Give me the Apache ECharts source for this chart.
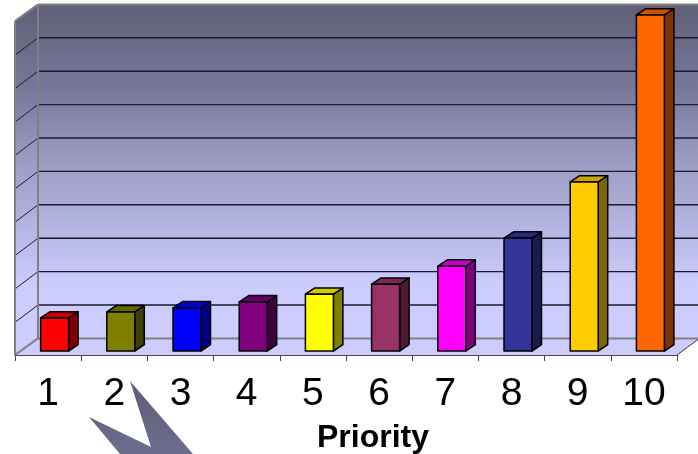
<!DOCTYPE html>
<html>
<head>
<meta charset="utf-8">
<style>html,body{margin:0;padding:0;background:#fff}#chart{width:698px;height:454px}</style>
<script src="https://cdn.jsdelivr.net/npm/echarts@6/dist/echarts.min.js"></script>
</head>
<body>
<div id="chart"></div>
<script>
// Priority counts, drawn as pseudo-3D columns
const categories = ['1', '2', '3', '4', '5', '6', '7', '8', '9', '10'];
const values = [9.9, 11.7, 12.9, 14.7, 17, 20, 25.4, 33.8, 50.6, 100.6];
const barColors = ['#ff0000', '#808000', '#0000ff', '#800080', '#ffff00',
  '#993366', '#ff00ff', '#333399', '#ffcc00', '#ff6600'];
const gridTicks = [10, 20, 30, 40, 50, 60, 70, 80, 90];

// Projection of the chart box: how far the back plane sits from the front plane
const DEPTH_X = 23, DEPTH_Y = 16.6;
const BAR_WIDTH = 28, BAR_DX = 6.5, BAR_DY = 4, BAR_DEPTH_X = 9.5, BAR_DEPTH_Y = 6.3;

const wallGradient = new echarts.graphic.LinearGradient(0, 4, 0, 286, [
  { offset: 0, color: '#5f5f78' },
  { offset: 0.3, color: '#77779a' },
  { offset: 0.5, color: '#9595bb' },
  { offset: 1, color: '#ccccff' }
], true);
wallGradient.global = true;

function shade(hex, f) {
  const n = parseInt(hex.slice(1), 16);
  const c = [n >> 16, (n >> 8) & 255, n & 255].map(v => Math.round(v * f));
  return 'rgb(' + c.join(',') + ')';
}

function renderBox(params, api) {
  const o = api.coord([0, 0]);
  const top = api.coord([0, 100]);
  const right = api.coord([categories.length - 1, 0])[0] + api.size([1, 0])[0] / 2;
  const left = o[0] - api.size([1, 0])[0] / 2;
  const bx = left + DEPTH_X, by = o[1] - DEPTH_Y, ty = top[1] - DEPTH_Y;
  const wallEdge = { stroke: '#808080', lineWidth: 2 };
  const children = [
    { type: 'polygon', shape: { points: [[bx, ty], [698, ty], [698, by], [bx, by]] },
      style: { fill: wallGradient } },
    { type: 'polygon', shape: { points: [[left, top[1]], [bx, ty], [bx, by], [left, o[1]]] },
      style: { fill: wallGradient } },
    { type: 'polygon', shape: { points: [[left, o[1]], [bx, by], [698, by], [698, by + 1], [right, o[1]]] },
      style: { fill: '#ccccff' } },
    { type: 'line', shape: { x1: right, y1: o[1], x2: 698, y2: by + 1 },
      style: { stroke: '#333333', lineWidth: 1 } }
  ];
  gridTicks.forEach(v => {
    const y = api.coord([0, v])[1];
    children.push(
      { type: 'line', shape: { x1: left + 1, y1: y, x2: bx, y2: y - DEPTH_Y },
        style: { stroke: '#1a1a2a', lineWidth: 1 } },
      { type: 'line', shape: { x1: bx, y1: y - DEPTH_Y, x2: 698, y2: y - DEPTH_Y },
        style: { stroke: '#1a1a2a', lineWidth: 1.4 } }
    );
  });
  children.push(
    { type: 'line', shape: { x1: bx, y1: ty, x2: 698, y2: ty }, style: wallEdge },
    { type: 'line', shape: { x1: bx, y1: ty, x2: bx, y2: by }, style: wallEdge },
    { type: 'line', shape: { x1: left, y1: top[1], x2: bx, y2: ty }, style: wallEdge },
    { type: 'line', shape: { x1: left, y1: top[1], x2: left, y2: o[1] }, style: wallEdge },
    { type: 'line', shape: { x1: bx, y1: by, x2: 698, y2: by }, style: wallEdge },
    { type: 'line', shape: { x1: left, y1: o[1], x2: bx, y2: by }, style: wallEdge }
  );
  return { type: 'group', children };
}

function renderBar(params, api) {
  const i = api.value(0);
  const base = api.coord([i, 0]);
  const head = api.coord([i, api.value(1)]);
  const x0 = base[0] + BAR_DX - BAR_WIDTH / 2, x1 = x0 + BAR_WIDTH;
  const y0 = base[1] - BAR_DY, y1 = head[1] - BAR_DY;
  const dx = BAR_DEPTH_X, dy = BAR_DEPTH_Y;
  const color = barColors[params.dataIndex];
  const edge = { stroke: '#000000', lineWidth: 1.5, lineJoin: 'round' };
  return {
    type: 'group',
    children: [
      { type: 'polygon', shape: { points: [[x1, y1], [x1 + dx, y1 - dy], [x1 + dx, y0 - dy], [x1, y0]] },
        style: { fill: shade(color, 0.5), ...edge } },
      { type: 'polygon', shape: { points: [[x0, y1], [x0 + dx, y1 - dy], [x1 + dx, y1 - dy], [x1, y1]] },
        style: { fill: shade(color, 0.8), ...edge } },
      { type: 'polygon', shape: { points: [[x0, y0], [x0, y1], [x1, y1], [x1, y0]] },
        style: { fill: color, ...edge } }
    ]
  };
}

const chart = echarts.init(document.getElementById('chart'), null, { renderer: 'canvas' });
chart.setOption({
  animation: false,
  backgroundColor: '#ffffff',
  grid: { left: 15, right: 21, top: 21, bottom: 99, containLabel: false, outerBoundsMode: 'none' },
  xAxis: {
    type: 'category',
    data: categories,
    axisLine: { show: true, onZero: false, lineStyle: { color: '#111111', width: 1.5 } },
    axisTick: { show: true, length: 6, lineStyle: { color: '#444444', width: 1 } },
    axisLabel: { color: '#000000', fontFamily: 'Liberation Sans', fontSize: 39, margin: 20 },
    name: 'Priority',
    nameLocation: 'middle',
    nameGap: 67,
    nameTextStyle: { color: '#000000', fontFamily: 'Liberation Sans', fontWeight: 'bold', fontSize: 32, padding: [0, 0, 0, 54] }
  },
  yAxis: {
    type: 'value', min: 0, max: 100, interval: 10,
    axisLine: { show: false }, axisTick: { show: false }, axisLabel: { show: false }, splitLine: { show: false }
  },
  series: [
    { type: 'custom', z: 1, silent: true, clip: false, renderItem: renderBox, data: [[0, 0]], encode: { x: 0, y: 1 } },
    { type: 'custom', z: 2, silent: true, clip: false, renderItem: renderBar,
      data: values.map((v, i) => [i, v]), encode: { x: 0, y: 1 } }
  ],
  // Decorative pointed shape under the axis, running off the bottom edge
  graphic: [{
    type: 'polygon', z: 5, silent: true,
    shape: { points: [[89, 417], [151, 447], [130, 381], [193, 454], [120, 454]] },
    style: { fill: new echarts.graphic.LinearGradient(0, 0, 0, 1, [
      { offset: 0, color: '#5f5f78' }, { offset: 1, color: '#6c6c8e' }]) }
  }]
});
</script>
</body>
</html>
